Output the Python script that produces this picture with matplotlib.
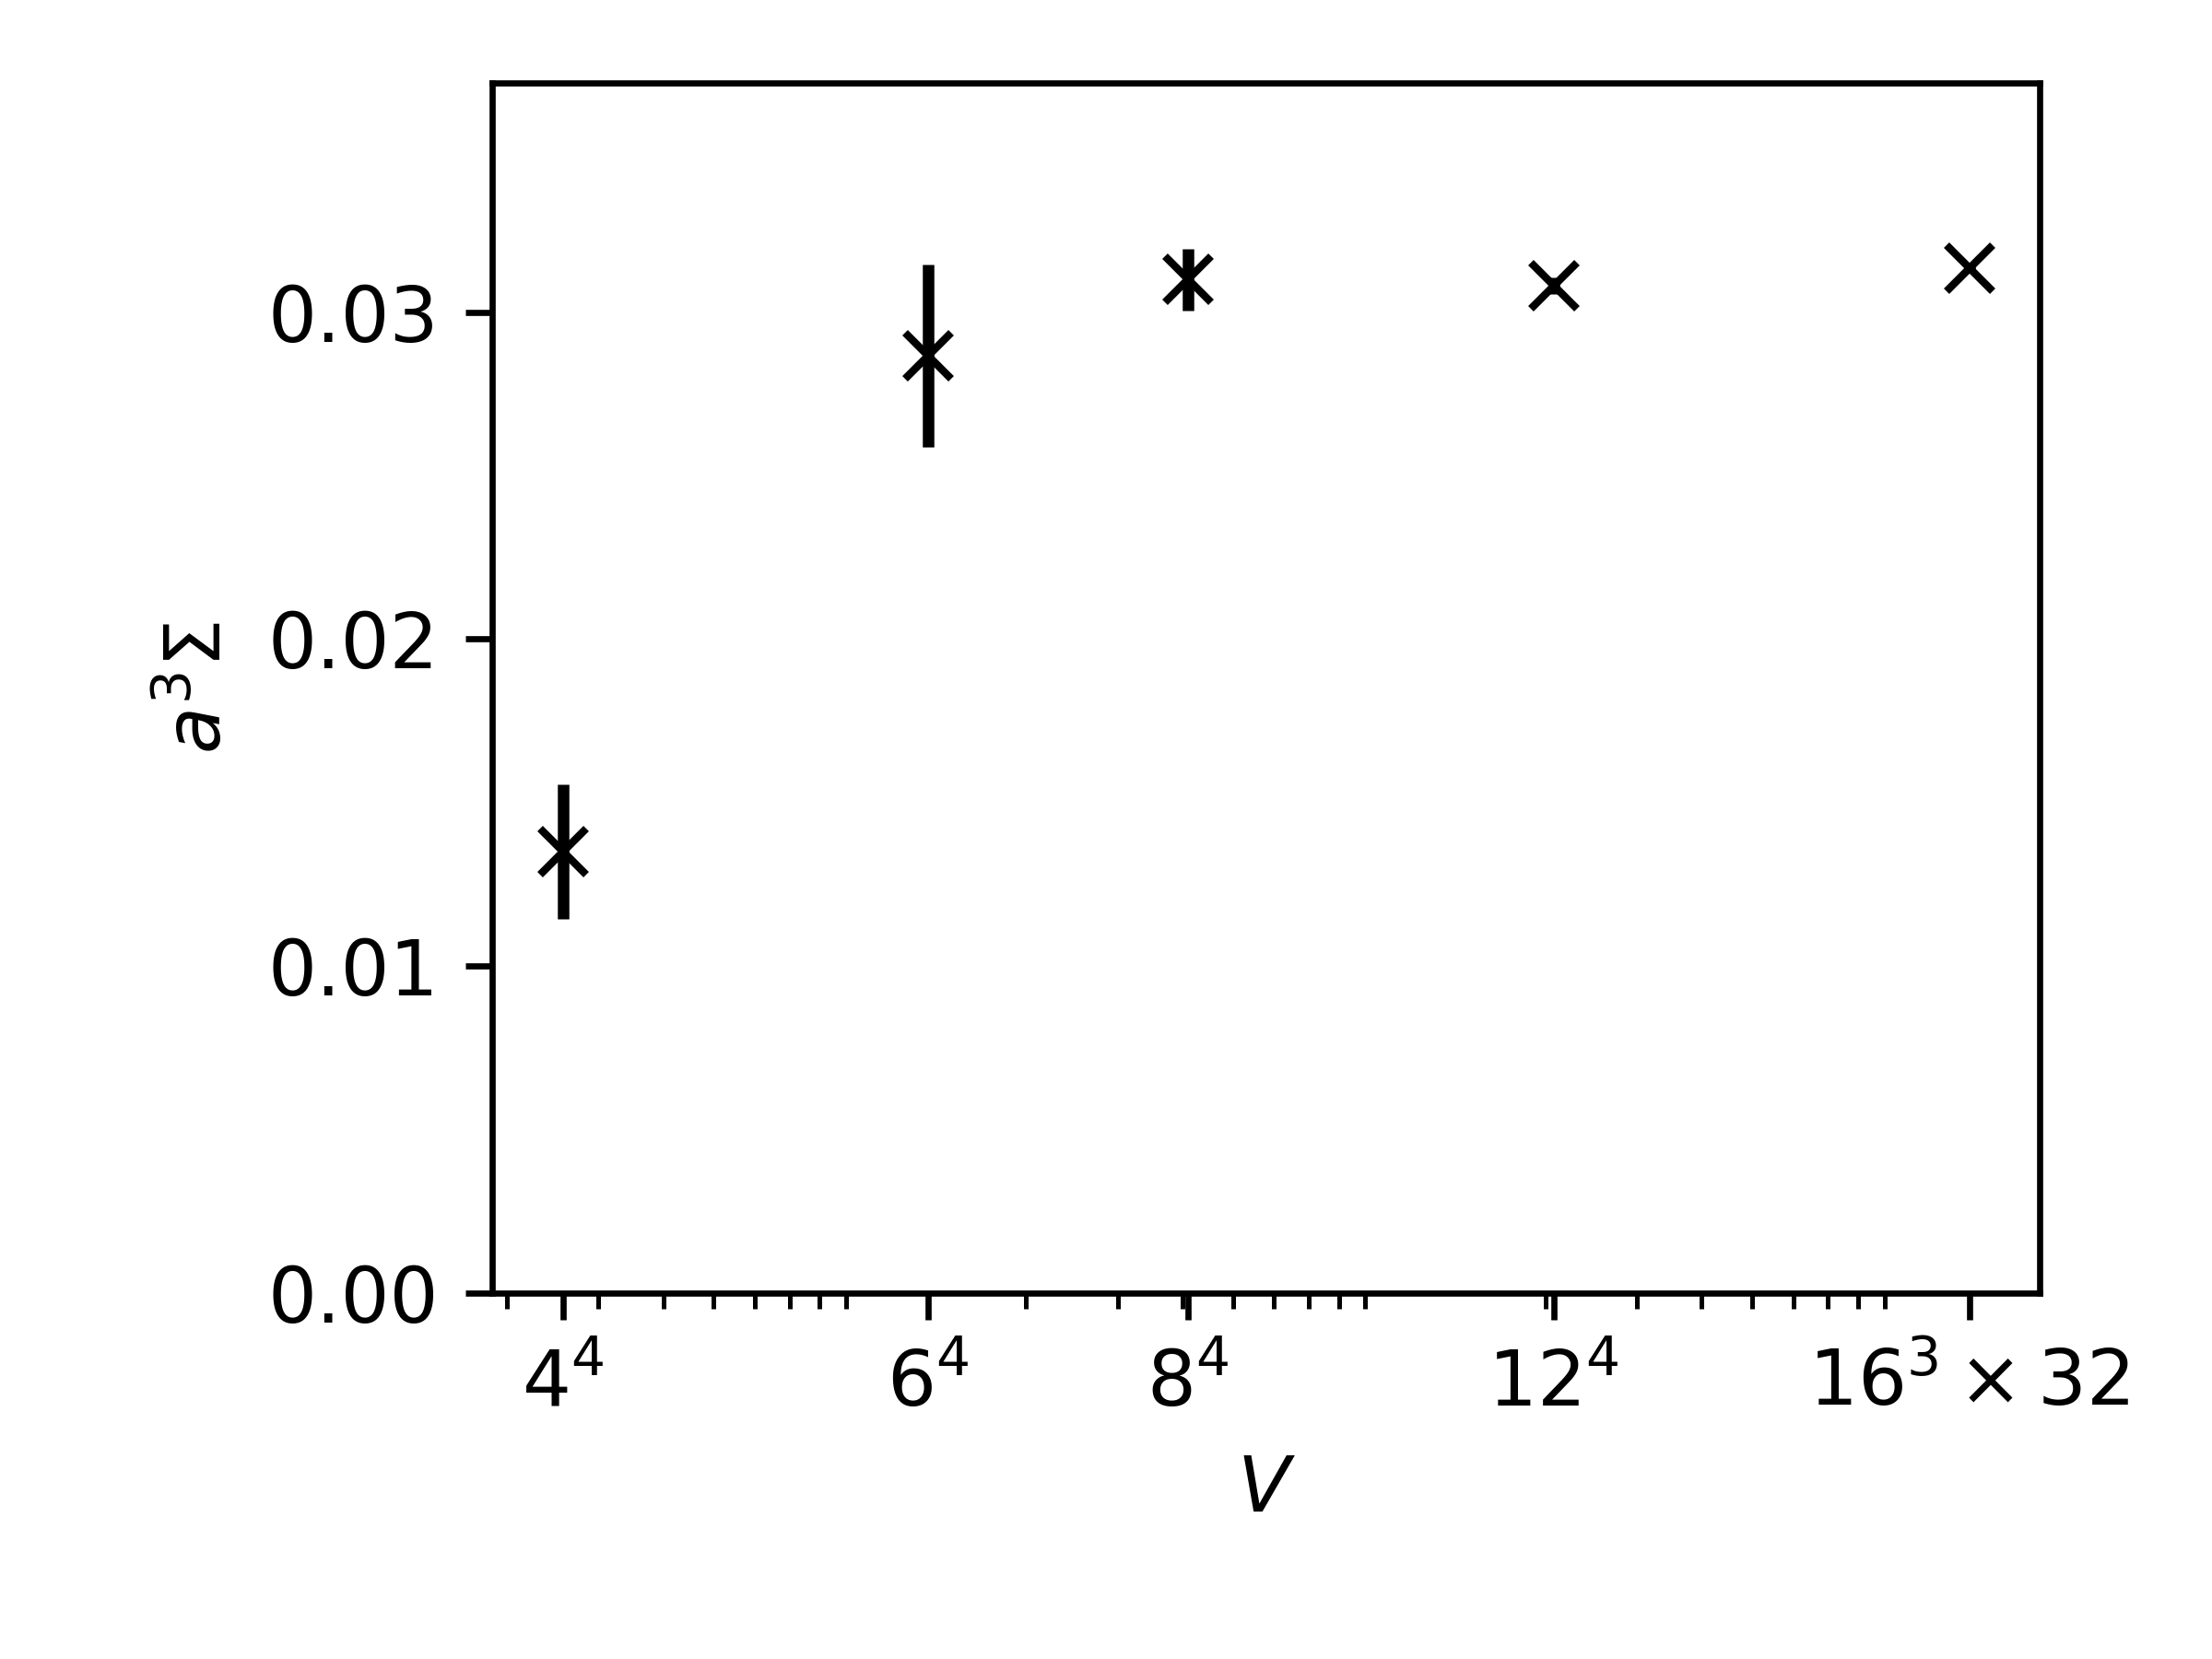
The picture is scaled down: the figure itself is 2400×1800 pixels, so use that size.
import matplotlib
matplotlib.use("Agg")
import matplotlib.pyplot as plt

# Data
volumes = [4**4, 6**4, 8**4, 12**4, 16**3 * 32]
volume_labels = [r"$4^4$", r"$6^4$", r"$8^4$", r"$12^4$", r"$16^3\times32$"]
sigma = [0.01350, 0.02867, 0.03100, 0.03080, 0.03135]
sigma_err = [0.00207, 0.00280, 0.00095, 0.00025, 0.00008]
yticks = [0.00, 0.01, 0.02, 0.03]

fig = plt.figure(figsize=(4, 3), dpi=600)
ax = fig.add_axes([0.2226, 0.2206, 0.9221 - 0.2226, 0.9498 - 0.2206])

ax.errorbar(volumes, sigma, yerr=sigma_err, fmt="x", color="black",
            ecolor="black", capsize=0)
ax.set_xscale("log")
ax.set_xticks(volumes)
ax.set_xticklabels(volume_labels)
ax.set_ylim(0, 0.037)
ax.set_yticks(yticks)
ax.set_yticklabels([f"{v:.2f}" for v in yticks])
ax.set_xlabel(r"$V$")
ax.set_ylabel(r"$a^3\Sigma$")

fig.savefig("out.png", dpi=600)
